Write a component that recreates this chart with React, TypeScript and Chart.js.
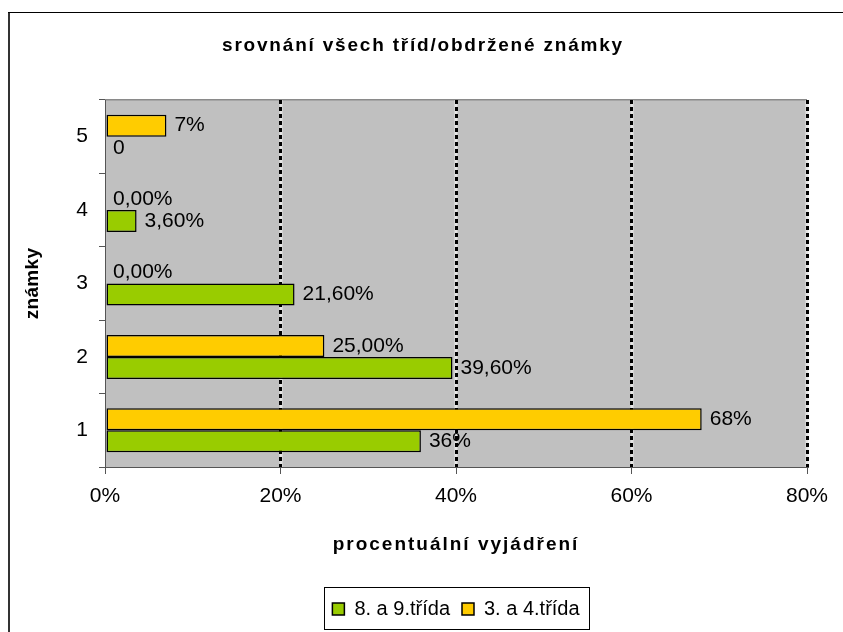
import React, { useEffect, useRef } from 'react';
import { Chart, registerables } from 'chart.js';

Chart.register(...registerables);

// ---- data ----
const categories = ['1', '2', '3', '4', '5'];
const seriesNames = ['8. a 9.třída', '3. a 4.třída'];
const valuesGrade89 = [36, 39.6, 21.6, 3.6, 0];
const valuesGrade34 = [68, 25, 0, 0, 7];
const labelsGrade89 = ['36%', '39,60%', '21,60%', '3,60%', '0'];
const labelsGrade34 = ['68%', '25,00%', '0,00%', '0,00%', '7%'];
const xTickLabels = ['0%', '20%', '40%', '60%', '80%'];
const chartTitle = 'srovnání všech tříd/obdržené známky';
const xTitle = 'procentuální vyjádření';
const yTitle = 'známky';

const colorGrade89 = '#99CC00';
const colorGrade34 = '#FFCC00';
const FONT = '"Liberation Sans", Arial, sans-serif';

export default function App() {
  const ref = useRef<HTMLCanvasElement | null>(null);

  useEffect(() => {
    const canvas = ref.current;
    if (!canvas) return;

    // Excel draws category 5 at the top and, within each category, the
    // "3. a 4." series above the "8. a 9." series.
    const cats = [...categories].reverse();
    const datasets = [
      {
        label: seriesNames[1],
        data: [...valuesGrade34].reverse(),
        backgroundColor: colorGrade34,
        borderColor: '#000',
        borderWidth: 1.5,
        borderSkipped: false,
        dl: [...labelsGrade34].reverse(),
      },
      {
        label: seriesNames[0],
        data: [...valuesGrade89].reverse(),
        backgroundColor: colorGrade89,
        borderColor: '#000',
        borderWidth: 1.5,
        borderSkipped: false,
        dl: [...labelsGrade89].reverse(),
      },
    ];

    const backgroundPlugin = {
      id: 'bg',
      beforeDraw(chart: any) {
        const { ctx, chartArea: a } = chart;
        ctx.save();
        ctx.fillStyle = '#fff';
        ctx.fillRect(0, 0, chart.width, chart.height);
        // outer chart border (right/bottom outside the picture)
        ctx.fillStyle = '#333';
        ctx.fillRect(8, 12, 2, chart.height - 12);
        ctx.fillStyle = '#000';
        ctx.fillRect(8, 12, chart.width - 8, 1);
        // plot area
        ctx.fillStyle = '#C0C0C0';
        ctx.fillRect(a.left, a.top, a.right - a.left, a.bottom - a.top);
        ctx.fillStyle = '#8a8a8a';
        ctx.fillRect(a.left, a.top - 1, a.right - a.left, 1.5);
        // light base under the dashed grid lines
        const xs = chart.scales.x;
        ctx.fillStyle = '#e6e6e6';
        xs.ticks.forEach((t: any) => {
          if (t.value === 0) return;
          const px = Math.round(xs.getPixelForValue(t.value));
          ctx.fillRect(px - 1.5, a.top, 3, a.bottom - a.top);
        });
        ctx.restore();
      },
    };

    const spacingPlugin = {
      id: 'spacing',
      beforeDraw(chart: any) {
        if (chart.__spaced) return;
        chart.__spaced = true;
        const wrap = (obj: any, key: string, sp: string) => {
          if (!obj || !obj[key]) return;
          const orig = obj[key];
          obj[key] = function (...args: any[]) {
            const ctx = chart.ctx;
            ctx.save();
            ctx.letterSpacing = sp;
            const r = orig.apply(this, args);
            ctx.restore();
            return r;
          };
        };
        wrap(chart.titleBlock, 'draw', '1.8px');
        wrap(chart.scales.x, 'drawTitle', '2px');
        wrap(chart.scales.y, 'drawTitle', '0.3px');
      },
    };

    const dataLabelPlugin = {
      id: 'dl',
      afterDatasetsDraw(chart: any) {
        const ctx = chart.ctx;
        ctx.save();
        ctx.font = `21px ${FONT}`;
        ctx.fillStyle = '#000';
        ctx.textAlign = 'left';
        ctx.textBaseline = 'middle';
        chart.data.datasets.forEach((ds: any, i: number) => {
          const meta = chart.getDatasetMeta(i);
          meta.data.forEach((bar: any, j: number) => {
            ctx.fillText(ds.dl[j], bar.x + 8, bar.y);
          });
        });
        ctx.restore();
      },
    };

    const legendBoxPlugin = {
      id: 'legendBox',
      afterDraw(chart: any) {
        const lg = chart.legend;
        if (!lg || !lg.legendHitBoxes || !lg.legendHitBoxes.length) return;
        const hb = lg.legendHitBoxes;
        const first = hb[0];
        const last = hb[hb.length - 1];
        const x1 = Math.min(first.left, last.left) - 8;
        const x2 = Math.max(first.left + first.width, last.left + last.width) + 10;
        const ctx = chart.ctx;
        ctx.save();
        ctx.strokeStyle = '#000';
        ctx.lineWidth = 1;
        ctx.strokeRect(Math.round(x1) + 0.5, Math.round(lg.top) + 0.5, Math.round(x2 - x1), Math.round(lg.bottom - lg.top));
        ctx.restore();
      },
    };

    const chart = new Chart(canvas, {
      type: 'bar',
      data: { labels: cats, datasets: datasets as any },
      options: {
        indexAxis: 'y',
        animation: false,
        responsive: false,
        devicePixelRatio: 1,
        layout: { padding: { left: 39, right: 36, top: 0, bottom: 3 } },
        datasets: {
          bar: { categoryPercentage: 0.6, barPercentage: 1.0 },
        },
        scales: {
          x: {
            type: 'linear',
            min: 0,
            max: 80,
            afterFit: (s: any) => {
              s.height = 120;
            },
            ticks: {
              stepSize: 20,
              callback: (_v: any, i: number) => xTickLabels[i],
              font: { family: FONT, size: 21 },
              color: '#000',
              padding: 10,
            },
            grid: {
              color: (c: any) => (c.tick && c.tick.value === 0 ? 'rgba(0,0,0,0)' : '#000'),
              lineWidth: 3,
              drawTicks: true,
              tickLength: 7,
              tickColor: '#555',
              tickWidth: 1,
              tickBorderDash: [],
            },
            border: { display: true, color: '#555', width: 1, dash: [4, 3] },
            title: {
              display: true,
              text: xTitle,
              font: { family: FONT, size: 19, weight: 'bold' },
              color: '#000',
              padding: { top: 0, bottom: 30.6 },
            },
          },
          y: {
            type: 'category',
            offset: true,
            afterFit: (s: any) => {
              s.width = 66;
            },
            ticks: {
              font: { family: FONT, size: 21 },
              color: '#000',
              padding: 11,
            },
            grid: {
              offset: true,
              drawOnChartArea: false,
              drawTicks: true,
              tickLength: 6,
              tickColor: '#555',
              color: '#555',
            },
            border: { display: true, color: '#555', width: 1 },
            title: {
              display: true,
              text: yTitle,
              font: { family: FONT, size: 19, weight: 'bold' },
              color: '#000',
              padding: { top: -17.4, bottom: 0 },
            },
          },
        },
        plugins: {
          title: {
            display: true,
            text: chartTitle,
            font: { family: FONT, size: 19, weight: 'bold' },
            color: '#000',
            padding: { top: 34.6, bottom: 42.6 },
            fullSize: true,
          },
          legend: {
            display: true,
            position: 'bottom',
            fullSize: false,
            reverse: true,
            labels: {
              boxWidth: 12,
              boxHeight: 12,
              padding: 12,
              font: { family: FONT, size: 20 },
              color: '#000',
            },
          },
          tooltip: { enabled: false },
        },
      } as any,
      plugins: [backgroundPlugin, spacingPlugin, dataLabelPlugin, legendBoxPlugin],
    });

    return () => {
      chart.destroy();
    };
  }, []);

  return (
    <div style={{ position: 'absolute', left: 0, top: 0, width: 843, height: 632 }}>
      <canvas ref={ref} width={843} height={632} style={{ display: 'block' }} />
    </div>
  );
}
